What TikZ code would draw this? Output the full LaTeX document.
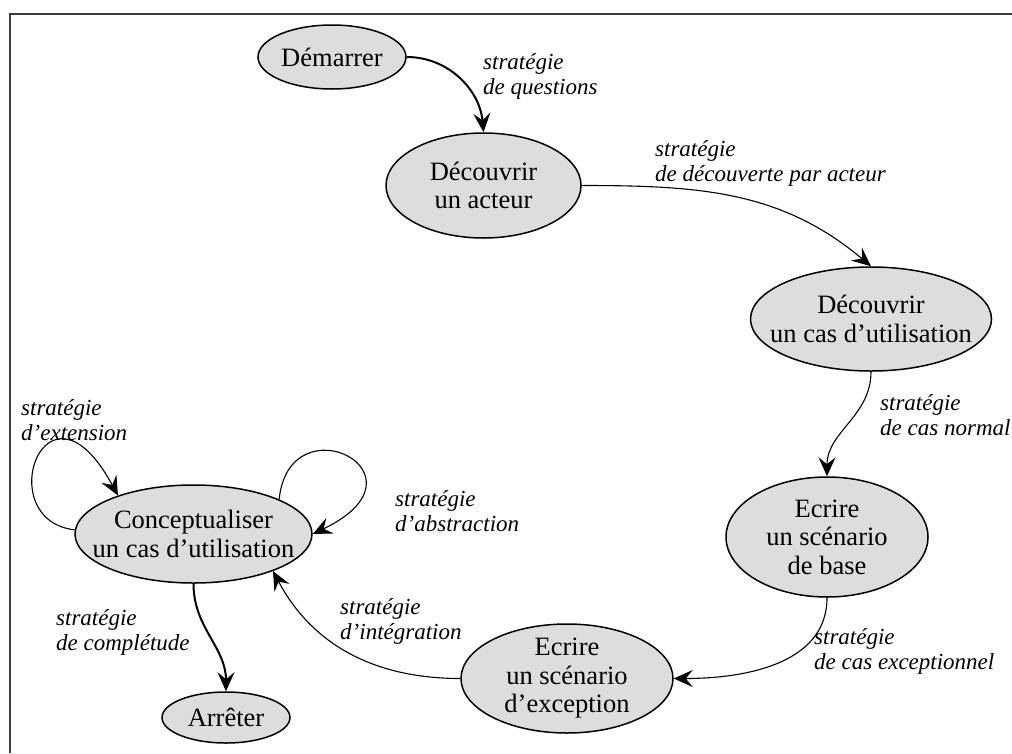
\documentclass[tikz,border=0pt]{standalone}
\usepackage{fontspec}
\setmainfont{Liberation Serif}
\usetikzlibrary{shapes.geometric,arrows.meta}
\definecolor{stagefill}{RGB}{221,221,221}
\definecolor{framegray}{RGB}{60,60,60}
\begin{document}
\begin{tikzpicture}[x=1pt,y=1pt,
  stage/.style={ellipse, draw=black, line width=1.5pt, fill=stagefill, inner sep=0pt},
  stagetext/.style={align=center, inner sep=0pt, font=\fontsize{26.5}{28.5}\selectfont},
  strat/.style={align=left, anchor=west, inner sep=0pt, font=\fontsize{23}{25}\selectfont\itshape},
  flow/.style={line width=1.1pt, -{Stealth[length=19pt,width=17pt,inset=7pt]}},
  flowbold/.style={flow, line width=2pt},
]
\useasboundingbox (0,0) rectangle (1012,-753);
% outer frame (left and top edges)
\draw[line width=1.6pt, framegray] (10,-753) -- (10,-14) -- (1012,-14);

% stages
\node[stage, minimum width=148pt, minimum height=64pt]  (start)   at (332,-57)    {};
\node[stage, minimum width=195pt, minimum height=105pt] (actor)   at (483.5,-185.5) {};
\node[stage, minimum width=241pt, minimum height=104pt] (usecase) at (871,-319)   {};
\node[stage, minimum width=202pt, minimum height=120pt] (basic)   at (827,-537)   {};
\node[stage, minimum width=212pt, minimum height=109pt] (except)  at (567,-678.5) {};
\node[stage, minimum width=237pt, minimum height=98pt]  (concept) at (193.5,-534) {};
\node[stage, minimum width=128pt, minimum height=51pt]  (stop)    at (226,-717.5) {};

\node[stagetext] (start-t)   at (start)   {Démarrer};
\node[stagetext] (actor-t)   at (actor)   {Découvrir\\un acteur};
\node[stagetext] (usecase-t) at (usecase) {Découvrir\\un cas d'utilisation};
\node[stagetext] (basic-t)   at (basic)   {Ecrire\\un scénario\\de base};
\node[stagetext] (except-t)  at (except)  {Ecrire\\un scénario\\d'exception};
\node[stagetext] (concept-t) at (concept) {Conceptualiser\\un cas d'utilisation};
\node[stagetext] (stop-t)    at (stop)    {Arrêter};

% strategies
\draw[flowbold] (start.east) to[out=0,in=95] (actor.north);
\draw[flow] (actor.east) to[out=0,in=140] (usecase.north);
\draw[flow] (usecase.south) to[out=-90,in=90] (basic.north);
\draw[flow] (basic.south) to[out=-90,in=0] (except.east);
\draw[flow] (except.west) to[out=180,in=-62] (concept.-25);
\draw[flowbold] (concept.south) to[out=-90,in=90] (stop.north);
\draw[flow] (concept.178) .. controls +(-85,10) and +(-72,133) .. (concept.153);
\draw[flow] (concept.22) .. controls +(10,100) and +(125,60) .. (concept.east);

% strategy labels
\node[strat] (l-questions)   at (483,-76)  {stratégie\\de questions};
\node[strat] (l-discovery)   at (655,-163) {stratégie\\de découverte par acteur};
\node[strat] (l-normal)      at (880,-415) {stratégie\\de cas normal};
\node[strat] (l-exceptional) at (814,-651) {stratégie\\de cas exceptionnel};
\node[strat] (l-integration) at (340,-621) {stratégie\\d'intégration};
\node[strat] (l-completion)  at (56,-632)  {stratégie\\de complétude};
\node[strat] (l-extension)   at (21,-420)  {stratégie\\d'extension};
\node[strat] (l-abstraction) at (395,-511) {stratégie\\d'abstraction};
\end{tikzpicture}
\end{document}
